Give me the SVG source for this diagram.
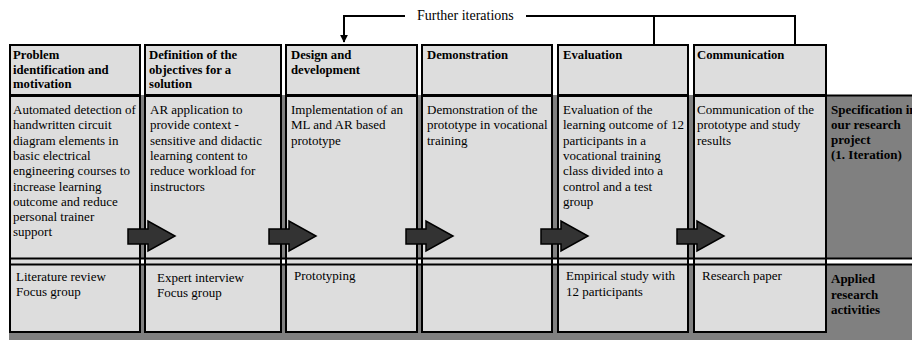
<svg xmlns="http://www.w3.org/2000/svg" width="912" height="340" viewBox="0 0 912 340">
<style>
text{font-family:"Liberation Serif","Times New Roman",serif;fill:#000}
.h{font-size:12.7px;font-weight:bold}
.b{font-size:13px}
.lb{font-size:13px;font-weight:bold}
.box{fill:#dddddd;stroke:#000;stroke-width:2}
.ln{stroke:#000;stroke-width:2;fill:none}
.blk{fill:#333;stroke:#000;stroke-width:1.5}
</style>
<defs>
<marker id="ah" viewBox="0 0 10 10" refX="9" refY="5" markerWidth="4" markerHeight="4" orient="auto">
<path d="M0,0 L10,5 L0,10 Z" fill="#000"/>
</marker>
</defs>
<rect width="912" height="340" fill="#fff"/>
<rect x="9" y="95" width="903" height="245" fill="#808080"/>
<rect x="9" y="258" width="903" height="7" fill="#fff"/>

<g id="col1">
<rect class="box" x="10" y="45" width="130" height="50"/>
<rect class="box" x="10" y="96" width="130" height="236"/>
<text class="h" x="13"><tspan x="13" y="59">Problem</tspan><tspan x="13" y="73.5">identification and</tspan><tspan x="13" y="88">motivation</tspan></text>
<text class="b"><tspan x="13" y="114">Automated detection of</tspan><tspan x="13" y="129.3">handwritten circuit</tspan><tspan x="13" y="144.6">diagram elements in</tspan><tspan x="13" y="159.9">basic electrical</tspan><tspan x="13" y="175.2">engineering courses to</tspan><tspan x="13" y="190.5">increase learning</tspan><tspan x="13" y="205.8">outcome and reduce</tspan><tspan x="13" y="221.1">personal trainer</tspan><tspan x="13" y="236.4">support</tspan></text>
<text class="b"><tspan x="16" y="280.5">Literature review</tspan><tspan x="16" y="296">Focus group</tspan></text>
</g>

<g id="col2">
<rect class="box" x="145" y="45" width="136" height="50"/>
<rect class="box" x="145" y="96" width="136" height="236"/>
<text class="h"><tspan x="149" y="59">Definition of the</tspan><tspan x="149" y="73.5">objectives for a</tspan><tspan x="149" y="88">solution</tspan></text>
<text class="b"><tspan x="150" y="114">AR application to</tspan><tspan x="150" y="129.3">provide context -</tspan><tspan x="150" y="144.6">sensitive and didactic</tspan><tspan x="150" y="159.9">learning content to</tspan><tspan x="150" y="175.2">reduce workload for</tspan><tspan x="150" y="190.5">instructors</tspan></text>
<text class="b"><tspan x="157" y="282">Expert interview</tspan><tspan x="157" y="297">Focus group</tspan></text>
</g>

<g id="col3">
<rect class="box" x="286" y="45" width="131" height="50"/>
<rect class="box" x="286" y="96" width="131" height="236"/>
<text class="h"><tspan x="291" y="59">Design and</tspan><tspan x="291" y="73.5">development</tspan></text>
<text class="b"><tspan x="291" y="114">Implementation of an</tspan><tspan x="291" y="129.3">ML and AR based</tspan><tspan x="291" y="144.6">prototype</tspan></text>
<text class="b" x="294" y="280">Prototyping</text>
</g>

<g id="col4">
<rect class="box" x="422" y="45" width="130" height="50"/>
<rect class="box" x="422" y="96" width="130" height="236"/>
<text class="h" x="427" y="59">Demonstration</text>
<text class="b"><tspan x="427" y="114">Demonstration of the</tspan><tspan x="427" y="129.3">prototype in vocational</tspan><tspan x="427" y="144.6">training</tspan></text>
</g>

<g id="col5">
<rect class="box" x="558" y="45" width="130" height="50"/>
<rect class="box" x="558" y="96" width="130" height="236"/>
<text class="h" x="563" y="59">Evaluation</text>
<text class="b"><tspan x="563" y="114">Evaluation of the</tspan><tspan x="563" y="129.3">learning outcome of 12</tspan><tspan x="563" y="144.6">participants in a</tspan><tspan x="563" y="159.9">vocational training</tspan><tspan x="563" y="175.2">class divided into a</tspan><tspan x="563" y="190.5">control and a test</tspan><tspan x="563" y="205.8">group</tspan></text>
<text class="b"><tspan x="566" y="280">Empirical study with</tspan><tspan x="566" y="296">12 participants</tspan></text>
</g>

<g id="col6">
<rect class="box" x="694" y="45" width="132" height="50"/>
<rect class="box" x="694" y="96" width="132" height="236"/>
<text class="h" x="697" y="59">Communication</text>
<text class="b"><tspan x="697" y="114">Communication of the</tspan><tspan x="697" y="129.3">prototype and study</tspan><tspan x="697" y="144.6">results</tspan></text>
<text class="b" x="702" y="280">Research paper</text>
</g>

<g id="rowlines">
<line class="ln" x1="826" y1="95.5" x2="912" y2="95.5"/>
<line class="ln" x1="9" y1="258.5" x2="912" y2="258.5"/>
<line class="ln" x1="9" y1="264.5" x2="912" y2="264.5"/>
</g>

<g id="label-spec">
<text class="lb"><tspan x="831" y="114">Specification in</tspan><tspan x="831" y="129">our research</tspan><tspan x="831" y="144">project</tspan><tspan x="831" y="159">(1. Iteration)</tspan></text>
</g>
<g id="label-applied">
<text class="lb"><tspan x="831" y="283">Applied</tspan><tspan x="831" y="298.5">research</tspan><tspan x="831" y="314">activities</tspan></text>
</g>

<g id="connectors">
<polyline class="ln" points="405,16 344,16 344,42" marker-end="url(#ah)"/>
<polyline class="ln" points="526,16 795,16 795,44"/>
<line class="ln" x1="654" y1="16" x2="654" y2="44"/>
<text class="b" x="417" y="20" style="font-size:14px">Further iterations</text>
<polygon class="blk" points="128,229 148,229 148,221 175,236 148,251 148,244 128,244"/>
<polygon class="blk" points="269,229 289,229 289,221 316,236 289,251 289,244 269,244"/>
<polygon class="blk" points="406,229 426,229 426,221 453,236 426,251 426,244 406,244"/>
<polygon class="blk" points="541,229 561,229 561,221 588,236 561,251 561,244 541,244"/>
<polygon class="blk" points="677,229 697,229 697,221 724,236 697,251 697,244 677,244"/>
</g>
</svg>
